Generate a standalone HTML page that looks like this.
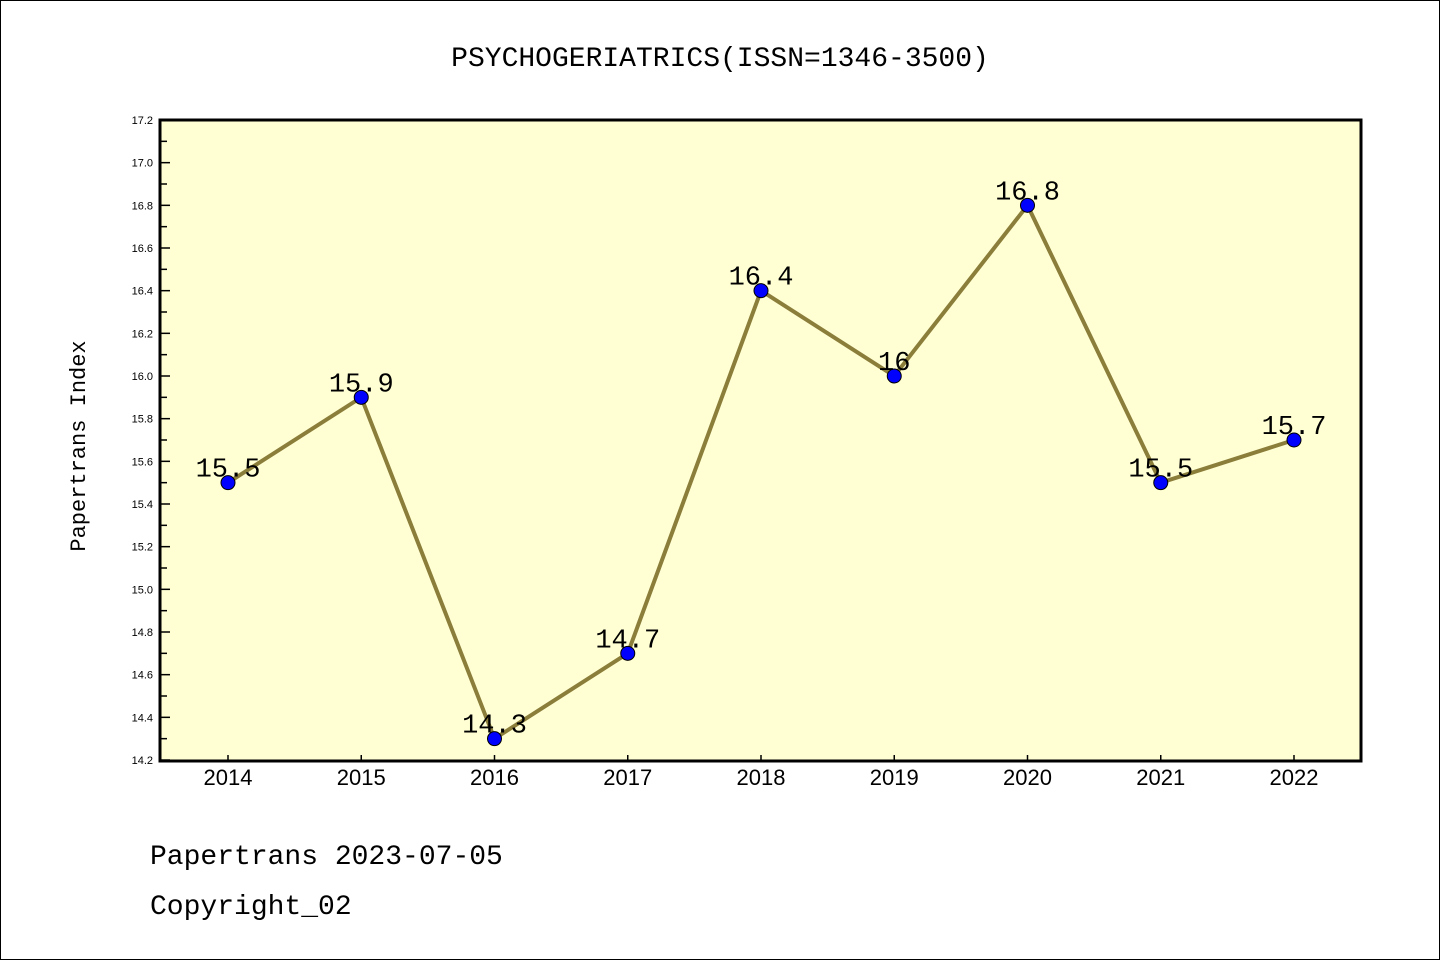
<!DOCTYPE html>
<html><head><meta charset="utf-8"><style>
body{margin:0;background:#fff;}
svg{display:block;font-family:"Liberation Sans","DejaVu Sans",sans-serif;}
</style></head><body>
<svg id="c" width="1440" height="960" xmlns="http://www.w3.org/2000/svg">
<rect x="0.5" y="0.5" width="1439" height="959" fill="#fff" stroke="#000"/>
<text x="720" y="66" text-anchor="middle" font-size="28" font-family="Liberation Mono, monospace">PSYCHOGERIATRICS(ISSN=1346-3500)</text>
<rect x="160" y="120" width="1201" height="641" fill="#ffffd3"/>
<g id="axes"></g>
<g id="marks"></g>
<rect x="160" y="120" width="1201" height="641" fill="none" stroke="#000" stroke-width="3"/>
<text x="85" y="446" text-anchor="middle" font-size="22" font-family="Liberation Mono, monospace" transform="rotate(-90 85 446)">Papertrans Index</text>
<text x="150" y="864" font-size="28" font-family="Liberation Mono, monospace">Papertrans 2023-07-05</text>
<text x="150" y="914" font-size="28" font-family="Liberation Mono, monospace">Copyright_02</text>
</svg>
<script>
const years=["2014","2015","2016","2017","2018","2019","2020","2021","2022"];
const values=[15.5,15.9,14.3,14.7,16.4,16.0,16.8,15.5,15.7];
const labels=["15.5","15.9","14.3","14.7","16.4","16","16.8","15.5","15.7"];
const yTicks=["14.2","14.4","14.6","14.8","15.0","15.2","15.4","15.6","15.8","16.0","16.2","16.4","16.6","16.8","17.0","17.2"];
const yMin=14.2,yMax=17.2;
const NS="http://www.w3.org/2000/svg";
function X(i){return 228+i*(1294-228)/(years.length-1);}
function Y(v){return 760-(v-yMin)/(yMax-yMin)*640;}
function mk(t,a,p){const e=document.createElementNS(NS,t);for(const k in a)e.setAttribute(k,a[k]);p.appendChild(e);return e;}
const ax=document.getElementById('axes'),mg=document.getElementById('marks');
yTicks.forEach(t=>{const v=parseFloat(t),y=Y(v);
 const l=mk('line',{x1:160,x2:170,y1:y,y2:y,stroke:'#000','stroke-width':1.5},ax);
 
 
 const tx=mk('text',{x:153,y:y+4,'text-anchor':'end','font-size':11},ax);tx.textContent=t;
 
 
 if(v<yMax-0.01){const ym=Y(v+0.1);const m=mk('line',{x1:160,x2:167,y1:ym,y2:ym,stroke:'#000','stroke-width':1.5},ax);
 
 }
});
years.forEach((yr,i)=>{const x=X(i);
 const l=mk('line',{x1:x,x2:x,y1:760,y2:755,stroke:'#000','stroke-width':1.5},ax);
 
 
 const t=mk('text',{x:x,y:785,'text-anchor':'middle','font-size':22},ax);t.textContent=yr;
 
 
});
const pl=mk('polyline',{points:values.map((v,i)=>X(i)+','+Y(v)).join(' '),fill:'none',stroke:'#8b7d3a','stroke-width':4},mg);


values.forEach((v,i)=>{
 const c=mk('circle',{cx:X(i),cy:Y(v),r:7,fill:'#0000ff',stroke:'#000','stroke-width':1},mg);
 
 
 const t=mk('text',{x:X(i),y:Y(v)-6,'text-anchor':'middle','font-size':27,'font-family':'Liberation Mono, monospace'},mg);t.textContent=labels[i];
 
 
});
</script>
</body></html>
